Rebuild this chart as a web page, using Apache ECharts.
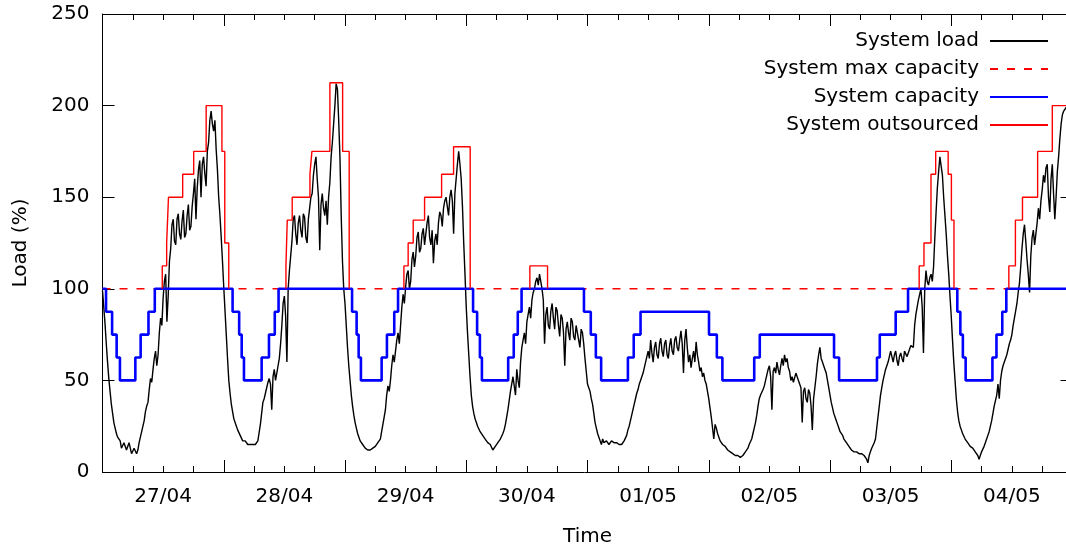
<!DOCTYPE html>
<html>
<head>
<meta charset="utf-8">
<script src="https://cdn.jsdelivr.net/npm/echarts@6/dist/echarts.min.js"></script>
<style>
html, body { margin: 0; padding: 0; background: #fff; }
#chart { width: 1066px; height: 547px; }
</style>
</head>
<body>
<div id="chart"></div>
<script>
// x axis is in hours, counted from 26/04 12:00

const dayLabels = ['27/04', '28/04', '29/04', '30/04', '01/05', '02/05', '03/05', '04/05']

const hoursMax = 192

// system load, one value every quarter hour from hour 0 (one row = 6 hours)
const loadStep = 0.25
const loadValues = [
  99, 90, 81, 70, 60, 51, 44, 37, 32, 27, 24, 21, 19, 18, 17, 13, 14, 16, 17, 12, 11, 16, 15, 10,
  9, 13, 14, 10, 12, 16, 19, 22, 25, 28, 33, 36, 38, 45, 51, 49, 56, 62, 66, 58, 64, 76, 84, 80,
  95, 104, 108, 82, 96, 115, 122, 135, 138, 126, 124, 138, 141, 130, 127, 137, 143, 128, 130, 140, 146, 132, 134, 145,
  152, 160, 138, 155, 165, 170, 150, 168, 172, 163, 156, 175, 180, 192, 197, 190, 186, 192, 176, 165, 150, 140, 128, 115,
  101, 88, 75, 62, 50, 43, 37, 33, 29, 27, 25, 23, 22, 20, 19, 17, 18, 17, 16, 15, 15, 15, 15, 15,
  15, 15, 16, 17, 18, 26, 32, 38, 40, 43, 46, 49, 51, 48, 34, 52, 56, 50, 54, 58, 62, 70, 80, 92,
  96, 85, 60, 100, 110, 118, 126, 138, 140, 130, 124, 136, 140, 132, 128, 141, 139, 128, 125, 138, 144, 150, 152, 162,
  168, 172, 160, 150, 121, 146, 152, 144, 140, 148, 135, 150, 158, 172, 180, 190, 200, 212, 209, 192, 172, 140, 115, 100,
  92, 80, 68, 58, 50, 42, 36, 31, 27, 24, 21, 19, 17, 16, 15, 14, 13, 12, 12, 11, 12, 12, 13, 13,
  14, 15, 16, 17, 18, 22, 26, 30, 34, 42, 47, 44, 50, 58, 64, 60, 66, 72, 76, 70, 80, 90, 97, 92,
  101, 108, 110, 100, 104, 116, 120, 112, 118, 128, 131, 120, 122, 130, 133, 124, 125, 136, 140, 128, 124, 132, 114, 126,
  130, 124, 136, 142, 140, 134, 144, 148, 150, 145, 140, 150, 154, 148, 130, 152, 160, 168, 175, 168, 160, 145, 125, 108,
  90, 76, 64, 52, 42, 36, 32, 29, 27, 25, 24, 22, 21, 20, 19, 18, 17, 16, 16, 15, 14, 12, 12, 14,
  15, 16, 17, 18, 19, 21, 23, 26, 30, 34, 39, 44, 48, 52, 53, 42, 56, 50, 46, 60, 68, 72, 76, 70,
  82, 86, 90, 84, 94, 98, 100, 104, 106, 102, 108, 104, 100, 94, 70, 86, 90, 80, 78, 88, 92, 84, 78, 90,
  88, 80, 74, 86, 84, 76, 58, 78, 82, 76, 72, 84, 82, 74, 72, 80, 80, 72, 68, 78, 76, 70, 62, 55,
  48, 46, 44, 40, 37, 32, 27, 24, 21, 19, 17, 15, 18, 16, 15, 17, 17, 15, 16, 17, 17, 16, 15, 16,
  17, 15, 14, 15, 16, 17, 18, 20, 23, 25, 28, 31, 34, 37, 40, 43, 45, 48, 50, 52, 54, 57, 60, 63,
  66, 62, 72, 65, 60, 68, 71, 64, 62, 70, 73, 66, 63, 70, 72, 64, 62, 69, 73, 66, 64, 72, 74, 68,
  66, 72, 77, 70, 54, 72, 78, 68, 60, 64, 57, 62, 66, 60, 71, 64, 60, 55, 57, 52, 54, 50, 48, 44,
  40, 35, 30, 24, 18, 26, 24, 21, 19, 17, 16, 15, 15, 14, 13, 12, 11, 11, 10, 10, 9, 9, 10, 9,
  9, 8, 8, 9, 10, 11, 12, 13, 15, 16, 18, 21, 24, 27, 31, 36, 40, 42, 43, 45, 47, 50, 53, 56,
  58, 52, 34, 55, 57, 54, 60, 56, 53, 58, 62, 58, 64, 60, 62, 57, 55, 50, 52, 49, 48, 54, 54, 50,
  50, 46, 27, 44, 46, 40, 38, 45, 43, 36, 23, 40, 46, 52, 59, 64, 68, 62, 60, 58, 56, 54, 50, 46,
  42, 38, 35, 32, 30, 28, 26, 24, 22, 21, 20, 18, 17, 16, 15, 14, 13, 12, 12, 11, 11, 11, 11, 10,
  10, 10, 10, 9, 9, 7, 5, 9, 11, 13, 14, 16, 18, 24, 30, 36, 42, 46, 50, 53, 56, 58, 60, 63,
  66, 63, 60, 64, 66, 61, 58, 63, 65, 62, 60, 66, 67, 63, 62, 67, 69, 70, 68, 80, 86, 90, 94, 97,
  100, 90, 65, 100, 110, 104, 102, 106, 108, 104, 112, 128, 142, 155, 164, 172, 173, 162, 150, 140, 130, 118, 108, 96,
  85, 72, 60, 50, 40, 33, 28, 25, 23, 21, 20, 18, 17, 16, 15, 14, 14, 13, 12, 11, 10, 9, 7, 9,
  11, 12, 14, 16, 18, 20, 22, 25, 28, 32, 36, 39, 42, 48, 40, 50, 55, 58, 60, 62, 64, 67, 70, 72,
  75, 80, 84, 88, 92, 98, 103, 112, 122, 130, 135, 126, 116, 108, 98, 118, 128, 132, 124, 130, 136, 144, 138, 148,
  154, 162, 158, 166, 168, 150, 142, 160, 168, 152, 138, 150, 164, 172, 182, 190, 195, 197, 198, 199, 199
]

const maxCapacity = 100

// [hour, capacity from that hour on]
const capacitySteps = [
  [0, 100], [0.7, 87.5], [1.9, 75], [2.8, 62.5], [3.45, 50], [6.5, 62.5], [7.55, 75], [9.1, 87.5], [10.35, 100],
  [25.75, 87.5], [27.05, 75], [27.55, 62.5], [28.0, 50], [31.5, 62.5], [32.95, 75], [34.1, 87.5], [34.85, 100],
  [49.4, 87.5], [50.3, 75], [50.7, 62.5], [51.15, 50], [55.25, 62.5], [56.3, 75], [57.75, 87.5], [58.5, 100],
  [73.35, 87.5], [74.15, 75], [74.7, 62.5], [75.1, 50], [80.3, 62.5], [81.4, 75], [82.2, 87.5], [82.95, 100],
  [95.3, 87.5], [96.65, 75], [97.65, 62.5], [98.7, 50], [104.0, 62.5], [105.15, 75], [106.5, 87.5],
  [120.05, 75], [121.6, 62.5], [122.7, 50], [129.0, 62.5], [130.1, 75],
  [144.8, 62.5], [145.8, 50], [153.3, 62.5], [153.85, 75], [157.0, 87.5], [159.45, 100],
  [169.2, 87.5], [169.8, 75], [170.3, 62.5], [170.85, 50], [176.15, 62.5], [176.95, 75], [178.1, 87.5], [178.9, 100],
  [192, 100]
]

// outsourced periods: [hour, level from that hour on], last entry drops back to 100
const outsourcedPeriods = [
  [[11.83, 112.5], [12.7, 125], [13.06, 150], [15.87, 162.5], [18.05, 175], [20.52, 200], [23.64, 175], [24.2, 125], [24.99, 100]],
  [[36.31, 112.5], [36.57, 137.5], [37.55, 150], [41.06, 162.5], [41.45, 175], [45.01, 212.5], [47.53, 175], [48.83, 100]],
  [[59.66, 112.5], [60.5, 125], [61.5, 137.5], [63.75, 150], [67.12, 162.5], [69.49, 177.5], [72.78, 100]],
  [[84.59, 112.5], [88.09, 100]],
  [[161.65, 112.5], [162.6, 125], [163.99, 162.5], [164.92, 175], [167.39, 162.5], [168.03, 137.5], [168.54, 100]],
  [[179.4, 112.5], [180.7, 137.5], [182.1, 150], [185.1, 175], [188.0, 200], [192, 200]]
]

// ----------------------------------------------------------------

const loadData = loadValues.map((v, i) => [i * loadStep, v])

const outsourcedData = []
outsourcedPeriods.forEach(p => {
  outsourcedData.push([p[0][0], 100])
  p.forEach(s => outsourcedData.push(s))
  outsourcedData.push([p[p.length - 1][0], null])
})

const font = 'DejaVu Sans'
const txt = { color: '#000', fontFamily: font, fontSize: 20 }
const tick = { show: true, inside: true, length: 12, lineStyle: { color: '#000', width: 1 } }
const minor = { show: true, splitNumber: 4, length: 6, lineStyle: { color: '#000', width: 1 } }
const line = { show: true, onZero: false, lineStyle: { color: '#000', width: 1 } }

const xBase = {
  type: 'value',
  min: 0,
  max: hoursMax,
  axisLine: line,
  splitLine: { show: false }
}

const option = {
  animation: false,
  backgroundColor: '#fff',
  grid: { left: 102.5, width: 970, top: 14, bottom: 75, outerBoundsMode: 'none', containLabel: false },
  legend: {
    orient: 'vertical',
    right: 12,
    top: 25,
    align: 'right',
    itemWidth: 58,
    itemHeight: 14,
    itemGap: 6,
    itemStyle: { opacity: 0 },
    textStyle: { ...txt, lineHeight: 22, padding: [0, 6, 0, 0] },
    data: ['System load', 'System max capacity', 'System capacity', 'System outsourced']
  },
  xAxis: [
    {
      ...xBase,
      position: 'bottom',
      interval: 24,
      axisTick: tick,
      minorTick: minor,
      axisLabel: { show: false },
      name: 'Time',
      nameLocation: 'middle',
      nameGap: 55,
      nameTextStyle: txt
    },
    {
      ...xBase,
      position: 'top',
      interval: 24,
      axisTick: tick,
      minorTick: minor,
      axisLabel: { show: false }
    },
    {
      ...xBase,
      position: 'bottom',
      interval: 12,
      axisLine: { show: false, onZero: false },
      axisTick: { show: false },
      axisLabel: {
        ...txt,
        margin: 15,
        formatter: v => ((v - 12) % 24 === 0 ? dayLabels[(v - 12) / 24] || '' : '')
      }
    }
  ],
  yAxis: [
    {
      type: 'value',
      min: 0,
      max: 250,
      interval: 50,
      position: 'left',
      axisLine: line,
      axisTick: tick,
      axisLabel: { ...txt, margin: 13 },
      splitLine: { show: false },
      name: 'Load (%)',
      nameLocation: 'middle',
      nameGap: 72,
      nameTextStyle: txt
    },
    {
      type: 'value',
      min: 0,
      max: 250,
      interval: 50,
      position: 'right',
      axisLine: line,
      axisTick: tick,
      axisLabel: { show: false },
      splitLine: { show: false }
    }
  ],
  series: [
    {
      name: 'System load',
      type: 'line',
      symbol: 'none',
      lineStyle: { color: '#000', width: 1.4 },
      itemStyle: { color: '#000' },
      data: loadData
    },
    {
      name: 'System max capacity',
      type: 'line',
      symbol: 'none',
      lineStyle: { color: '#ff0000', width: 1.5, type: [8, 9] },
      itemStyle: { color: '#ff0000' },
      data: [[0, maxCapacity], [hoursMax, maxCapacity]]
    },
    {
      name: 'System capacity',
      type: 'line',
      step: 'end',
      symbol: 'none',
      lineStyle: { color: '#0000ff', width: 2.6 },
      itemStyle: { color: '#0000ff' },
      data: capacitySteps
    },
    {
      name: 'System outsourced',
      type: 'line',
      step: 'end',
      symbol: 'none',
      connectNulls: false,
      lineStyle: { color: '#ff0000', width: 1.4 },
      itemStyle: { color: '#ff0000' },
      data: outsourcedData
    }
  ]
}

const myChart = echarts.init(document.getElementById('chart'))
myChart.setOption(option)
</script>
</body>
</html>
